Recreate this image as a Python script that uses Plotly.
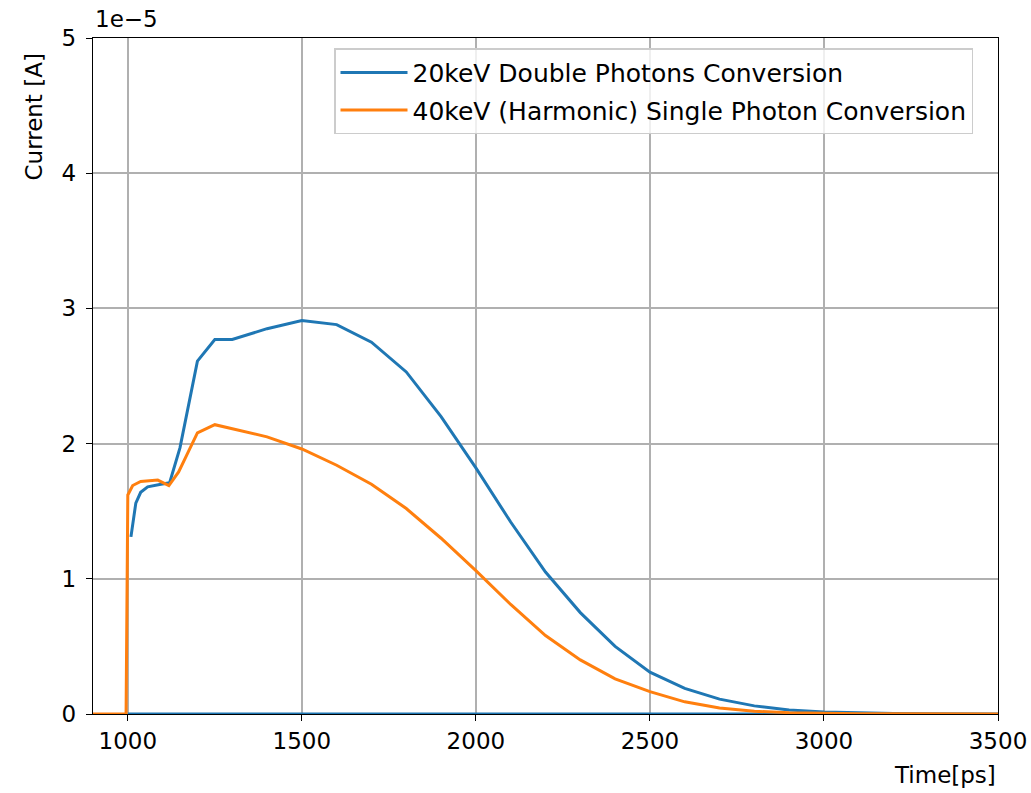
import numpy as np
import plotly.graph_objects as go

# Time axis samples [ps] and currents in units of 1e-5 A
time_20kev = [1009, 1023, 1037, 1057, 1095, 1120, 1150, 1175, 1200, 1250, 1300,
              1400, 1500, 1600, 1700, 1800, 1900, 2000, 2100, 2200, 2300, 2400,
              2500, 2600, 2700, 2800, 2900, 3000, 3100, 3200, 3300, 3400, 3500, 1000]
current_20kev = [1.31, 1.56, 1.64, 1.68, 1.70, 1.71, 1.97, 2.30, 2.61, 2.77, 2.77,
                 2.85, 2.91, 2.88, 2.75, 2.53, 2.20, 1.82, 1.42, 1.05, 0.75, 0.50,
                 0.31, 0.19, 0.11, 0.06, 0.03, 0.015, 0.007, 0.003, 0.001, 0.0, 0.0, 0.0]

time_40kev = [900, 995, 1000, 1014, 1037, 1086, 1118, 1146, 1172, 1200, 1250, 1300,
              1400, 1500, 1600, 1700, 1800, 1900, 2000, 2100, 2200, 2300, 2400,
              2500, 2600, 2700, 2800, 2900, 3000, 3100, 3200, 3300, 3400, 3500]
current_40kev = [0.0, 0.0, 1.62, 1.69, 1.72, 1.73, 1.69, 1.79, 1.93, 2.08, 2.14, 2.11,
                 2.05, 1.96, 1.84, 1.70, 1.52, 1.30, 1.06, 0.81, 0.58, 0.40, 0.26,
                 0.165, 0.09, 0.045, 0.02, 0.01, 0.004, 0.002, 0.001, 0.0, 0.0, 0.0]

y_ticks = [0, 1, 2, 3, 4, 5]
x_ticks = [1000, 1500, 2000, 2500, 3000, 3500]
scale = 1e-5

FONT = "DejaVu Sans"
fig = go.Figure()
fig.add_trace(go.Scatter(
    x=time_20kev, y=np.array(current_20kev) * scale, mode="lines",
    name="20keV Double Photons Conversion", legendgroup="a",
    line=dict(color="#1f77b4", width=3)))
fig.add_trace(go.Scatter(
    x=time_40kev, y=np.array(current_40kev) * scale, mode="lines",
    name="40keV (Harmonic) Single Photon Conversion", legendgroup="b",
    line=dict(color="#ff7f0e", width=3)))

axis_common = dict(
    showline=True, linecolor="black", linewidth=1.4, mirror=True,
    showgrid=True, gridcolor="#b0b0b0", gridwidth=1.5,
    ticks="outside", ticklen=6, tickwidth=1.4, tickcolor="black",
    tickfont=dict(family=FONT, size=23, color="black"),
    zeroline=False, automargin=False,
)

fig.update_layout(
    width=1031, height=793,
    margin=dict(l=93, r=33, t=38, b=79),
    paper_bgcolor="white", plot_bgcolor="white",
    font=dict(family=FONT, size=23, color="black"),
    xaxis=dict(range=[900, 3500], tickvals=x_ticks,
               ticktext=[str(v) for v in x_ticks], **axis_common),
    yaxis=dict(range=[0, 5 * scale], tickvals=[v * scale for v in y_ticks],
               ticktext=[str(v) for v in y_ticks], ticklabelstandoff=5,
               **axis_common),
    legend=dict(x=0.2663, y=0.985, xanchor="left", yanchor="top",
                bgcolor="rgba(255,255,255,0.8)", bordercolor="#cccccc",
                borderwidth=1.5, font=dict(family=FONT, size=25, color="black"),
                itemwidth=67, tracegroupgap=2, traceorder="grouped"),
    showlegend=True,
    annotations=[
        dict(text="1e\u22125", xref="paper", yref="paper", x=0, y=1,
             xanchor="left", yanchor="bottom", yshift=4, showarrow=False,
             font=dict(family=FONT, size=23, color="black")),
        dict(text="Current [A]", xref="paper", yref="paper", x=0, y=1,
             xanchor="center", yanchor="top", xshift=-60, yshift=-14,
             textangle=-90, showarrow=False,
             font=dict(family=FONT, size=23, color="black")),
        dict(text="Time[ps]", xref="paper", yref="paper", x=1, y=0,
             xanchor="right", yanchor="top", yshift=-46, showarrow=False,
             font=dict(family=FONT, size=23, color="black")),
    ],
)

fig.write_html("out.html")
